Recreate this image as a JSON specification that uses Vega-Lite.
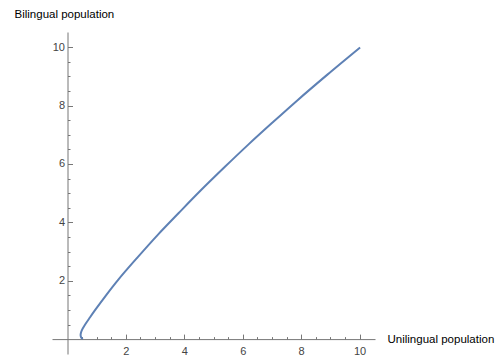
{
  "$schema": "https://vega.github.io/schema/vega-lite/v6.json",
  "autosize": "none",
  "width": 323,
  "height": 322,
  "padding": {"left": 52, "top": 32, "right": 128, "bottom": 4},
  "background": "white",
  "config": {"view": {"stroke": null}, "font": "Liberation Sans"},
  "data": {"values": [
    {"t": 0, "u": 0.52, "b": 0},
    {"t": 1, "u": 0.475, "b": 0.05},
    {"t": 2, "u": 0.455, "b": 0.1},
    {"t": 3, "u": 0.45, "b": 0.14},
    {"t": 4, "u": 0.458, "b": 0.2},
    {"t": 5, "u": 0.49, "b": 0.3},
    {"t": 6, "u": 0.605, "b": 0.5},
    {"t": 7, "u": 0.774, "b": 0.75},
    {"t": 8, "u": 0.95, "b": 1.0},
    {"t": 9, "u": 1.32, "b": 1.5},
    {"t": 10, "u": 1.735, "b": 2.03},
    {"t": 11, "u": 2.4, "b": 2.8},
    {"t": 12, "u": 3.1, "b": 3.58},
    {"t": 13, "u": 3.8, "b": 4.31},
    {"t": 14, "u": 4.55, "b": 5.08},
    {"t": 15, "u": 5.4, "b": 5.91},
    {"t": 16, "u": 6.2, "b": 6.67},
    {"t": 17, "u": 7.0, "b": 7.4},
    {"t": 18, "u": 7.85, "b": 8.16},
    {"t": 19, "u": 8.9, "b": 9.06},
    {"t": 20, "u": 10.02, "b": 9.99}
  ]},
  "mark": {"type": "line", "color": "#5E81B5", "strokeWidth": 2, "interpolate": "catmull-rom", "clip": false},
  "encoding": {
    "order": {"field": "t", "type": "quantitative"},
    "x": {
      "field": "u", "type": "quantitative",
      "scale": {"domain": [-0.53, 10.53], "nice": false, "zero": false},
      "axis": {
        "title": "Unilingual population",
        "offset": -14.9,
        "values": [0.5,1,1.5,2,2.5,3,3.5,4,4.5,5,5.5,6,6.5,7,7.5,8,8.5,9,9.5,10],
        "labelExpr": "datum.value % 2 === 0 ? format(datum.value, 'd') : ''",
        "grid": false,
        "domainColor": "#777777",
        "tickColor": "#777777",
        "tickSize": {"condition": {"test": "datum.value % 2 === 0", "value": -5}, "value": -2.5},
        "labelPadding": 11,
        "labelColor": "#444444",
        "labelFontSize": 11,
        "labelFont": "Liberation Sans",
        "titleFont": "Liberation Sans",
        "titleFontSize": 11.5,
        "titleFontWeight": "normal",
        "titleColor": "#000000",
        "titleAnchor": null,
        "titleX": 335,
        "titleY": 0,
        "titleAlign": "left",
        "titleBaseline": "middle"
      }
    },
    "y": {
      "field": "b", "type": "quantitative",
      "scale": {"domain": [-0.51, 10.52], "nice": false, "zero": false},
      "axis": {
        "title": "Bilingual population",
        "offset": -15.5,
        "values": [0.5,1,1.5,2,2.5,3,3.5,4,4.5,5,5.5,6,6.5,7,7.5,8,8.5,9,9.5,10],
        "labelExpr": "datum.value % 2 === 0 ? format(datum.value, 'd') : ''",
        "grid": false,
        "domainColor": "#777777",
        "tickColor": "#777777",
        "tickSize": {"condition": {"test": "datum.value % 2 === 0", "value": -5}, "value": -2.5},
        "labelPadding": 8,
        "labelColor": "#444444",
        "labelFontSize": 11,
        "labelFont": "Liberation Sans",
        "titleFont": "Liberation Sans",
        "titleFontSize": 11.5,
        "titleFontWeight": "normal",
        "titleColor": "#000000",
        "titleAngle": 0,
        "titleAnchor": null,
        "titleX": -53.5,
        "titleY": -18,
        "titleAlign": "left",
        "titleBaseline": "middle"
      }
    }
  }
}
